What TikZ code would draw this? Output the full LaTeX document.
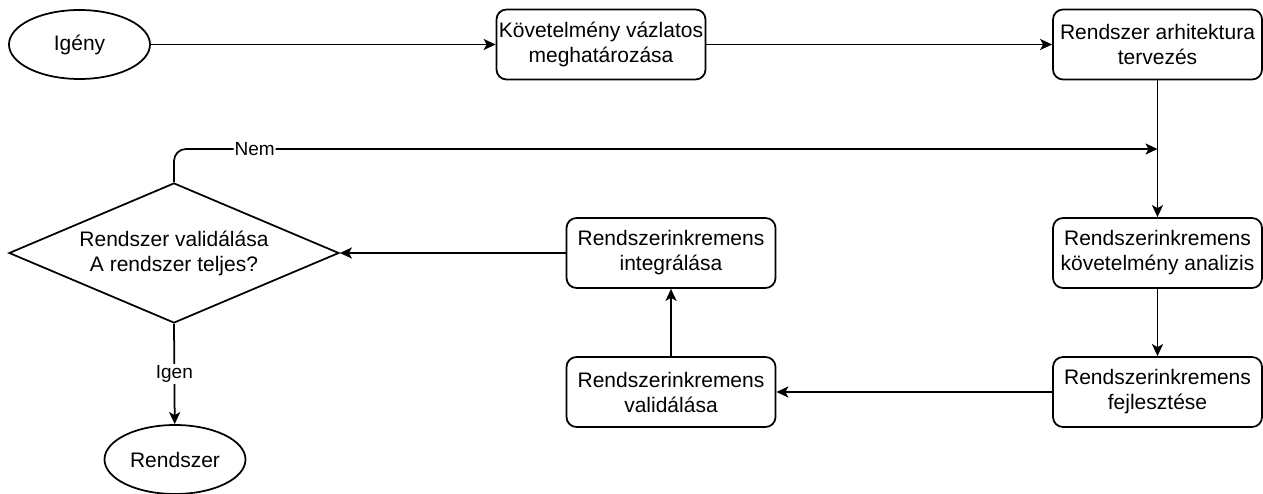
\documentclass[tikz,border=0pt]{standalone}
\usepackage{fontspec}
\setmainfont{Liberation Sans}
\usetikzlibrary{shapes.geometric, arrows.meta}

\begin{document}
\begin{tikzpicture}[x=1pt, y=-1pt,
    every node/.style={font=\fontsize{21}{25}\selectfont, align=center},
    lepes/.style={draw, line width=1.75pt, rounded corners=10pt, minimum width=209pt, minimum height=70pt, inner sep=0pt},
    vegpont/.style={draw, ellipse, line width=1.75pt, minimum width=141pt, minimum height=69pt, inner sep=0pt},
    dontes/.style={draw, diamond, line width=1.75pt, minimum width=330pt, minimum height=140pt, inner sep=0pt},
    cimke/.style={font=\fontsize{19}{22}\selectfont, fill=white, inner sep=1pt},
    nyil/.style={line width=1.75pt, -{Stealth[length=12pt, width=11pt, inset=3pt]}}]

    \useasboundingbox (0,0) rectangle (1263,494);

    % Felső sor
    \node[vegpont] (igeny) at (79.5,44.5) {Igény};
    \node[lepes] (vazlat) at (601,44.5) {Követelmény vázlatos\\meghatározása};
    \node[lepes] (arhitektura) at (1157.5,44.5) {Rendszer arhitektura\\tervezés};

    % Jobb oszlop
    \node[lepes] (analizis) at (1157.5,253) {Rendszerinkremens\\követelmény analizis};
    \node[lepes] (fejlesztes) at (1157.5,392) {Rendszerinkremens\\fejlesztése};

    % Középső oszlop
    \node[lepes] (validalas) at (671,392) {Rendszerinkremens\\validálása};
    \node[lepes] (integralas) at (671,253) {Rendszerinkremens\\integrálása};

    % Döntés és vége
    \node[dontes] (teljes) at (174,253) {};
    \node (teljesszoveg) at (teljes.center) {Rendszer validálása\\A rendszer teljes?};
    \node[vegpont] (rendszer) at (175,459.5) {Rendszer};

    \coordinate (visszacsatolas) at (1157.5,149);

    % Nyilak
    \draw[nyil] (igeny) -- (vazlat);
    \draw[nyil] (vazlat) -- (arhitektura);
    \draw[nyil] (arhitektura) -- (analizis);
    \draw[nyil] (analizis) -- (fejlesztes);
    \draw[nyil] (fejlesztes) -- (validalas);
    \draw[nyil] (validalas) -- (integralas);
    \draw[nyil] (integralas) -- (teljes.east);
    \draw[nyil] (teljes.south) -- node[cimke] {Igen} (rendszer);
    \draw[nyil, rounded corners=12pt] (teljes.north) |- node[cimke, pos=0.541] {Nem} (visszacsatolas);

\end{tikzpicture}
\end{document}
